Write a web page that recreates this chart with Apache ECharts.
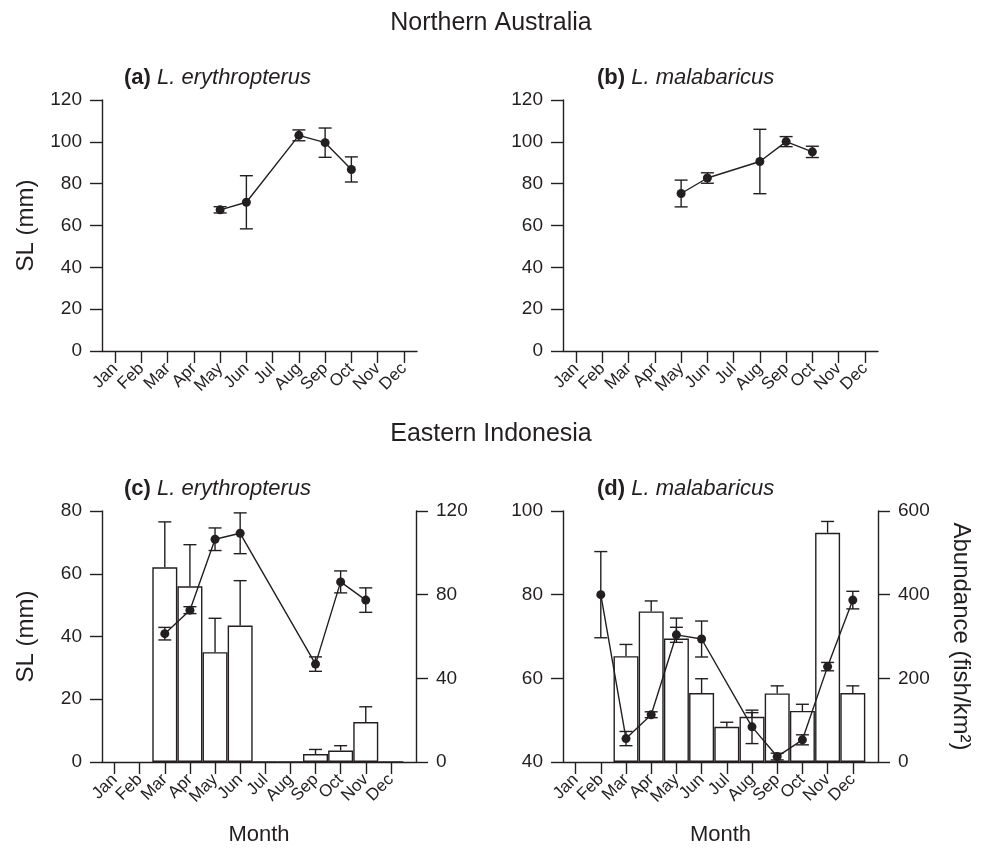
<!DOCTYPE html>
<html><head><meta charset="utf-8">
<script src="https://cdn.jsdelivr.net/npm/echarts@6/dist/echarts.min.js"></script>
<style>html,body{margin:0;padding:0;background:#fff}#c{width:982px;height:851px}</style>
</head><body><div id="c"></div><script>
// ---------- data ----------
const months = ['Jan','Feb','Mar','Apr','May','Jun','Jul','Aug','Sep','Oct','Nov','Dec'];
const monthPos = [1,2,3,4,5,6,7,8,9,10,11,12];

// (a) Northern Australia, L. erythropterus : SL mean and error
const aSL    = [null,null,null,null,67.5,71.1,null,103.1,99.6,86.8,null,null];
const aSLerr = [null,null,null,null,1.5,12.7,null,2.6,7.0,6.0,null,null];
// (b) Northern Australia, L. malabaricus
const bSL    = [null,null,null,null,75.3,82.7,null,90.6,100.1,95.2,null,null];
const bSLerr = [null,null,null,null,6.4,2.5,null,15.4,2.4,2.7,null,null];
// (c) Eastern Indonesia, L. erythropterus
const cSL    = [null,null,40.9,48.4,71.0,72.9,null,null,31.2,57.4,51.6,null];
const cSLerr = [null,null,2.0,1.1,3.6,6.5,null,null,2.3,3.5,3.9,null];
const cAb    = [null,null,93.1,84.0,52.5,65.2,0,0,3.8,5.5,19.1,0];
const cAbErr = [null,null,21.7,19.9,16.2,21.5,null,null,2.2,2.3,7.3,null];
// (d) Eastern Indonesia, L. malabaricus
const dSL    = [null,80.0,45.6,51.3,70.4,69.4,null,48.4,41.3,45.3,62.8,78.7];
const dSLerr = [null,10.3,1.7,0.7,1.8,4.3,null,4.0,0.8,1.2,1.0,2.1];
const dAb    = [null,null,253,360,295,165,84,108,164,122,548,165];
const dAbErr = [null,null,28,25,49,34,11,10,18,16,27,17];

// ---------- helpers ----------
const FONT = 'Liberation Sans, Arial, Helvetica, sans-serif';
const INK = '#231f20';
const LW = 1.4;

function pts(vals){ const o=[]; vals.forEach((v,i)=>{ if(v!==null) o.push([monthPos[i], v]); }); return o; }
function errPts(vals, errs){ const o=[]; vals.forEach((v,i)=>{ if(v!==null && errs[i]!==null) o.push([monthPos[i], v, errs[i]]); }); return o; }

function errRender(twoSided){
  return function(params, api){
    const x = api.value(0), y = api.value(1), e = api.value(2);
    const pHi = api.coord([x, y + e]);
    const pLo = api.coord([x, twoSided ? y - e : y]);
    const cw = 6.5;
    const st = {stroke: INK, lineWidth: LW, fill: null};
    const ch = [
      {type:'line', shape:{x1:pHi[0], y1:pHi[1], x2:pLo[0], y2:pLo[1]}, style:st},
      {type:'line', shape:{x1:pHi[0]-cw, y1:pHi[1], x2:pHi[0]+cw, y2:pHi[1]}, style:st}
    ];
    if (twoSided) ch.push({type:'line', shape:{x1:pLo[0]-cw, y1:pLo[1], x2:pLo[0]+cw, y2:pLo[1]}, style:st});
    return {type:'group', children: ch};
  };
}

const axLine = {show:true, onZero:false, lineStyle:{color:INK, width:LW}};
const axTick = {show:true, length:12, lineStyle:{color:INK, width:LW}};

function xAx(gi, maxv, name){
  return {type:'value', gridIndex:gi, min:0.5, max:maxv,
    axisLine:axLine,
    axisTick:Object.assign({customValues: monthPos}, axTick),
    axisLabel:{customValues: monthPos, formatter: v => months[Math.round(v)-1], rotate:45,
      fontSize:17, color:INK, margin:15, fontFamily:FONT},
    splitLine:{show:false},
    name: name || '', nameLocation:'middle', nameGap:62,
    nameTextStyle:{fontSize:22, color:INK, fontFamily:FONT}
  };
}
function yAx(gi, min, max, interval, pos, name, gap){
  return {type:'value', gridIndex:gi, min, max, interval, position:pos,
    axisLine:axLine, axisTick:axTick,
    axisLabel:{fontSize:19, color:INK, margin:20, fontFamily:FONT},
    splitLine:{show:false},
    name: name || '', nameLocation:'middle', nameGap: gap || 60,
    nameRotate: pos === 'right' ? -90 : 90,
    nameTextStyle:{fontSize:24, color:INK, fontFamily:FONT}
  };
}

function lineSeries(xi, yi, vals){
  return {type:'line', xAxisIndex:xi, yAxisIndex:yi, data: pts(vals), z:5,
    symbol:'circle', symbolSize:9, itemStyle:{color:INK},
    lineStyle:{color:INK, width:LW}, animation:false};
}
function errSeries(xi, yi, vals, errs, two){
  return {type:'custom', xAxisIndex:xi, yAxisIndex:yi, data: errPts(vals, errs), z: two?4:3,
    renderItem: errRender(two), encode:{x:0, y:1}, animation:false};
}
function barSeries(xi, yi, vals){
  return {type:'bar', xAxisIndex:xi, yAxisIndex:yi, data: pts(vals), barWidth:25, z:2,
    itemStyle:{color:'#ffffff', borderColor:INK, borderWidth:LW}, animation:false};
}

const rich = {
  b:{fontWeight:'bold', fontSize:22, color:INK, fontFamily:FONT},
  i:{fontStyle:'italic', fontSize:22, color:INK, fontFamily:FONT}
};
function panelTitle(lbl, sp, left, top){
  return {text:'{b|' + lbl + '}{i| ' + sp + '}', left, top, textStyle:{rich, fontWeight:'normal'}};
}
const headStyle = {fontSize:25, fontWeight:'normal', color:INK, fontFamily:FONT};

const option = {
  backgroundColor:'#fff',
  animation:false,
  textStyle:{fontFamily:FONT},
  title:[
    {text:'Northern Australia', left:'center', top:6, textStyle:headStyle},
    {text:'Eastern Indonesia', left:'center', top:417, textStyle:headStyle},
    panelTitle('(a)','L. erythropterus',119,62),
    panelTitle('(b)','L. malabaricus',592,62),
    panelTitle('(c)','L. erythropterus',119,473),
    panelTitle('(d)','L. malabaricus',592,473)
  ],
  grid:[
    {left:102, top:100, width:315, height:251},
    {left:563, top:100, width:315, height:251},
    {left:102, top:511, width:314, height:251},
    {left:563, top:511, width:315, height:251}
  ],
  xAxis:[ xAx(0,12.5), xAx(1,12.5), xAx(2,13,'Month'), xAx(3,13,'Month') ],
  yAxis:[
    yAx(0,0,120,20,'left','SL (mm)',64),
    yAx(1,0,120,20,'left'),
    yAx(2,0,80,20,'left','SL (mm)',64),
    yAx(2,0,120,40,'right'),
    yAx(3,40,100,20,'left'),
    yAx(3,0,600,200,'right','Abundance (fish/km²)',71)
  ],
  series:[
    errSeries(0,0,aSL,aSLerr,true), lineSeries(0,0,aSL),
    errSeries(1,1,bSL,bSLerr,true), lineSeries(1,1,bSL),
    barSeries(2,3,cAb), errSeries(2,3,cAb,cAbErr,false),
    errSeries(2,2,cSL,cSLerr,true), lineSeries(2,2,cSL),
    barSeries(3,5,dAb), errSeries(3,5,dAb,dAbErr,false),
    errSeries(3,4,dSL,dSLerr,true), lineSeries(3,4,dSL)
  ]
};
const chart = echarts.init(document.getElementById('c'), null, {renderer:'canvas'});
chart.setOption(option);
</script></body></html>
